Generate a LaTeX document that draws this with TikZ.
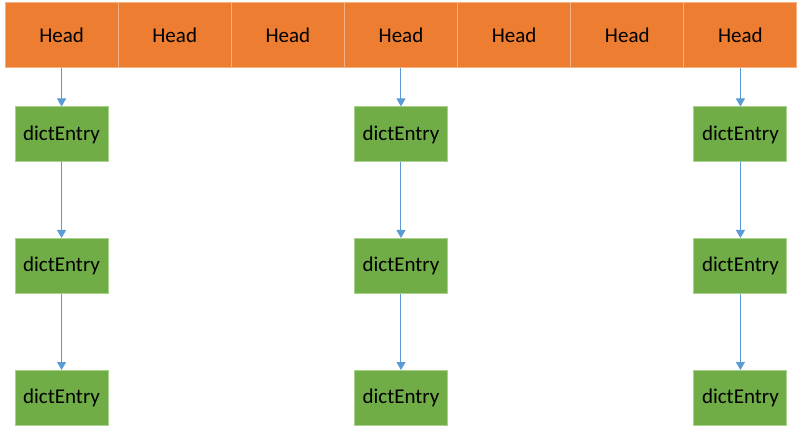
\documentclass[tikz,border=0pt]{standalone}
\usepackage{fontspec}
\setmainfont{Carlito}
\usepackage{xcolor}
\usepackage{tikz}
\usetikzlibrary{arrows.meta,positioning}
\definecolor{headc}{HTML}{ED7D31}
\definecolor{headln}{HTML}{F4B183}
\definecolor{entc}{HTML}{70AD47}
\definecolor{entln}{HTML}{A9D18E}
\definecolor{arrc}{HTML}{5B9BD5}
\tikzset{
  ar/.style={-{Triangle[length=8pt,width=9pt]},line width=1pt,arrc},
  headbox/.style={draw=headln,line width=1pt,fill=headc,minimum width=113.14pt,minimum height=65pt,inner sep=0pt,font=\fontsize{21}{24}\selectfont},
  entbox/.style={draw=entln,line width=1pt,fill=entc,minimum width=93pt,minimum height=55pt,inner sep=0pt,font=\fontsize{21}{24}\selectfont}
}
\begin{document}
\begin{tikzpicture}[x=1pt,y=1pt]
\useasboundingbox (0,0) rectangle (802,434);
% row of heads
\foreach \i in {1,...,7}
  \node[headbox] (h\i) at ({5+(\i-0.5)*113.14},398.5) {Head};
% chains of entries under heads 1, 4 and 7
\foreach \c in {1,4,7} {
  \node[entbox] (e\c a) at (h\c.center |- 0,299.5) {dictEntry};
  \node[entbox] (e\c b) at (h\c.center |- 0,168) {dictEntry};
  \node[entbox] (e\c c) at (h\c.center |- 0,36) {dictEntry};
  \draw[ar] (h\c) -- (e\c a);
  \draw[ar] (e\c a) -- (e\c b);
  \draw[ar] (e\c b) -- (e\c c);
}
\end{tikzpicture}
\end{document}
